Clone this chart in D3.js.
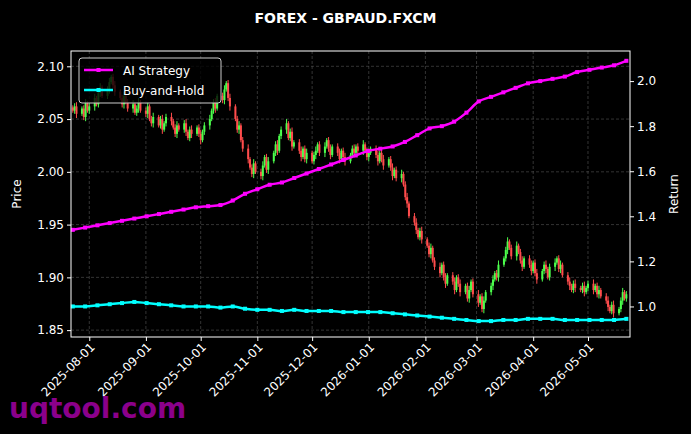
<!doctype html>
<html><head><meta charset="utf-8">
<script src="https://d3js.org/d3.v7.min.js"></script>
<style>body{margin:0;background:#000}text{font-family:"DejaVu Sans",sans-serif}</style>
</head><body>
<script>
// daily closes, business days from 2025-07-23
var closes = [2.058,2.062,2.055,
 2.060,2.052,2.065,2.058,2.062, 2.070,2.064,2.075,2.080,2.072, 2.078,2.085,2.090,2.082,2.076,
 2.070,2.064,2.072,2.066,2.060, 2.064,2.056,2.060,2.066,2.058, 2.055,2.062,2.050,2.046,2.052,
 2.044,2.050,2.040,2.046,2.052, 2.048,2.042,2.036,2.044,2.040, 2.046,2.038,2.032,2.040,2.036,
 2.042,2.036,2.030,2.038,2.044, 2.050,2.058,2.066,2.060,2.072, 2.068,2.078,2.084,2.070,2.062,
 2.050,2.040,2.044,2.030,2.022, 2.012,2.004,1.998,2.008,2.000, 1.996,2.006,2.014,2.002,2.010,
 2.018,2.026,2.020,2.034,2.040, 2.046,2.032,2.038,2.024,2.028, 2.020,2.014,2.022,2.012,2.018,
 2.010,2.016,2.020,2.026,2.018, 2.024,2.030,2.022,2.016,2.024, 2.018,2.012,2.020,2.014,2.010,
 2.016,2.022,2.018,2.024,2.020, 2.026,2.020,2.014,2.018,2.022, 2.016,2.010,2.018,2.012,2.006,
 2.012,2.004,1.996,2.002,1.994, 1.998,1.988,1.976,1.970,1.958, 1.952,1.945,1.938,1.944,1.936,
 1.930,1.922,1.928,1.916,1.910, 1.904,1.912,1.900,1.894,1.902, 1.896,1.888,1.900,1.894,1.886,
 1.892,1.880,1.888,1.896,1.884, 1.876,1.882,1.870,1.878,1.886, 1.892,1.898,1.904,1.900,1.912,
 1.918,1.926,1.934,1.928,1.920, 1.930,1.924,1.916,1.910,1.918, 1.912,1.906,1.914,1.904,1.898,
 1.906,1.912,1.908,1.900,1.910, 1.914,1.918,1.908,1.912,1.902, 1.896,1.892,1.888,1.894,1.890,
 1.888,1.892,1.886,1.890,1.894, 1.888,1.892,1.884,1.888,1.882, 1.878,1.872,1.868,1.874,1.866,
 1.870,1.878,1.886,1.880,1.884];
// weekly returns
var aiReturn = [1.34,1.35,1.36,1.37,1.38,1.39,1.40,1.41,1.42,1.43,1.44,1.445,1.45,1.47,1.50,1.52,1.54,1.55,1.57,1.59,1.61,1.63,1.65,1.67,1.69,1.70,1.71,1.73,1.76,1.79,1.80,1.82,1.86,1.91,1.93,1.95,1.97,1.99,2.00,2.01,2.02,2.04,2.05,2.06,2.07,2.09];
var bhReturn = [1.00,1.00,1.005,1.01,1.015,1.02,1.015,1.01,1.005,1.00,1.00,1.00,0.995,1.00,0.99,0.985,0.985,0.98,0.985,0.98,0.98,0.98,0.975,0.975,0.975,0.975,0.97,0.965,0.96,0.955,0.95,0.945,0.94,0.935,0.935,0.94,0.94,0.945,0.945,0.945,0.94,0.94,0.94,0.94,0.94,0.945];
var priceTicks = [1.85,1.90,1.95,2.00,2.05,2.10];
var returnTicks = [1.0,1.2,1.4,1.6,1.8,2.0];

var W = 691, H = 434, m = {l:71, r:61, t:51, b:97};
var svg = d3.select("body").append("svg").attr("width",W).attr("height",H).style("background","#000");
var start = new Date(2025,6,23), end = new Date(2026,4,22);
var days = d3.timeDay.range(start, new Date(2026,5,30)).filter(function(d){ return d.getDay()%6!=0; }).slice(0, closes.length);
var candles = closes.map(function(c,i){
  var o = i ? closes[i-1] : c + 0.003;
  var w = 0.002 + (i%3)*0.001;
  return {date:days[i], o:o, c:c, h:Math.max(o,c)+w, l:Math.min(o,c)-w};
});
var x = d3.scaleTime().domain([new Date(2025,6,22), new Date(2026,4,24)]).range([m.l, W-m.r]);
var y = d3.scaleLinear().domain([1.8435,2.1145]).range([H-m.b, m.t]);
var y2 = d3.scaleLinear().domain([0.8645,2.1335]).range([H-m.b, m.t]);

var months = d3.timeMonth.range(new Date(2025,7,1), new Date(2026,4,2));
var grid = svg.append("g").attr("stroke","#555").attr("stroke-dasharray","3,2").attr("stroke-width",0.6);
months.forEach(function(d){ grid.append("line").attr("x1",x(d)).attr("x2",x(d)).attr("y1",m.t).attr("y2",H-m.b); });
priceTicks.forEach(function(v){ grid.append("line").attr("x1",m.l).attr("x2",W-m.r).attr("y1",y(v)).attr("y2",y(v)); });

var cg = svg.append("g");
candles.forEach(function(d){
  var col = d.c >= d.o ? "#4cff4c" : "#ff4c4c";
  cg.append("line").attr("x1",x(d.date)).attr("x2",x(d.date)).attr("y1",y(d.h)).attr("y2",y(d.l)).attr("stroke",col).attr("stroke-width",1);
  cg.append("rect").attr("x",x(d.date)-1).attr("width",2).attr("y",y(Math.max(d.o,d.c))).attr("height",Math.max(1,Math.abs(y(d.o)-y(d.c)))).attr("fill",col);
});

var tw = d3.scaleLinear().domain([0, aiReturn.length-1]).range([start.getTime(), end.getTime()]);
function drawLine(vals, col){
  var pts = vals.map(function(v,i){ return [x(new Date(tw(i))), y2(v)]; });
  svg.append("path").attr("d", d3.line().curve(d3.curveMonotoneX)(pts)).attr("fill","none").attr("stroke",col).attr("stroke-width",2.5);
  svg.append("g").selectAll("rect").data(pts).enter().append("rect")
    .attr("x",function(p){return p[0]-2;}).attr("y",function(p){return p[1]-2;}).attr("width",4).attr("height",4).attr("fill",col);
}
drawLine(aiReturn, "#ff00ff");
drawLine(bhReturn, "#00ffff");

svg.append("rect").attr("x",m.l).attr("y",m.t).attr("width",W-m.l-m.r).attr("height",H-m.t-m.b).attr("fill","none").attr("stroke","#fff");

var ax = svg.append("g").attr("transform","translate(0,"+(H-m.b)+")").call(d3.axisBottom(x).tickValues(months).tickFormat(d3.timeFormat("%Y-%m-%d")).tickSize(4));
ax.selectAll("text").attr("transform","rotate(-45)").style("text-anchor","end").attr("dx","-0.3em").attr("dy","0.4em");
var ay = svg.append("g").attr("transform","translate("+m.l+",0)").call(d3.axisLeft(y).tickValues(priceTicks).tickFormat(d3.format(".2f")).tickSize(4));
var ay2 = svg.append("g").attr("transform","translate("+(W-m.r)+",0)").call(d3.axisRight(y2).tickValues(returnTicks).tickFormat(d3.format(".1f")).tickSize(4));
[ax,ay,ay2].forEach(function(a){
  a.select(".domain").remove();
  a.selectAll("line").attr("stroke","#fff");
  a.selectAll("text").attr("fill","#fff").style("font-size","12px").style("font-family","DejaVu Sans");
});

svg.append("text").attr("x",W/2).attr("y",23).attr("text-anchor","middle").attr("fill","#fff").style("font-size","14px").style("font-weight","bold").text("FOREX - GBPAUD.FXCM");
svg.append("text").attr("transform","translate(21,"+((m.t+H-m.b)/2)+") rotate(-90)").attr("text-anchor","middle").attr("fill","#fff").style("font-size","12px").text("Price");
svg.append("text").attr("transform","translate(678,"+((m.t+H-m.b)/2)+") rotate(-90)").attr("text-anchor","middle").attr("fill","#fff").style("font-size","12px").text("Return");

var lg = svg.append("g").attr("transform","translate(79,58)");
lg.append("rect").attr("width",142).attr("height",45).attr("rx",3).attr("fill","#000").attr("fill-opacity",0.8).attr("stroke","#ccc");
[["AI Strategy","#ff00ff"],["Buy-and-Hold","#00ffff"]].forEach(function(e,i){
  var yy = 12 + i*20;
  lg.append("line").attr("x1",5).attr("x2",34).attr("y1",yy).attr("y2",yy).attr("stroke",e[1]).attr("stroke-width",2.5);
  lg.append("rect").attr("x",17.5).attr("y",yy-2).attr("width",4).attr("height",4).attr("fill",e[1]);
  lg.append("text").attr("x",44).attr("y",yy+4.5).attr("fill","#fff").style("font-size","12px").text(e[0]);
});

svg.append("text").attr("x",9).attr("y",418).attr("fill","#8b008b").style("font-size","28px").style("font-weight","bold").text("uqtool.com");
</script>
</body></html>
